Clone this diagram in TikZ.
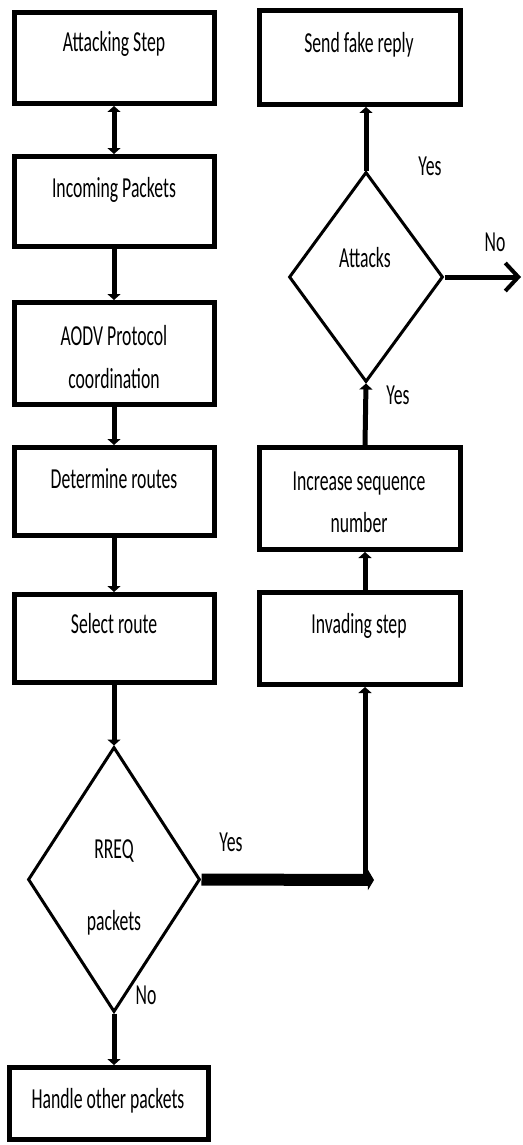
\documentclass[tikz,border=0pt]{standalone}
\usepackage{fontspec}
\setmainfont{Carlito}[FakeStretch=0.61]
\usetikzlibrary{shapes.geometric,arrows.meta}
\begin{document}
\begin{tikzpicture}[x=1pt,y=-1pt,
  box/.style={draw, line width=5pt, rectangle, inner sep=0pt},
  dia/.style={draw, line width=3pt, diamond, inner sep=0pt},
  txt/.style={font=\fontsize{29}{34}\selectfont, inner sep=0pt, anchor=base},
  lbl/.style={font=\fontsize{29}{34}\selectfont, inner sep=0pt},
  conn/.style={line width=5pt, -{Triangle[width=13pt,length=6pt]}},
  both/.style={line width=5pt, {Triangle[width=13pt,length=6pt]}-{Triangle[width=13pt,length=6pt]}},
]
\useasboundingbox (0,0) rectangle (522,1145);
% left column
\node[box, minimum width=200pt, minimum height=91pt] (b1) at (114,58) {};
\node[box, minimum width=200pt, minimum height=90pt] (b2) at (114,201.5) {};
\node[box, minimum width=200pt, minimum height=102pt] (b3) at (114,353.5) {};
\node[box, minimum width=200pt, minimum height=88pt] (b4) at (114,491.5) {};
\node[box, minimum width=200pt, minimum height=88pt] (b5) at (114,638.5) {};
\node[dia, minimum width=172pt, minimum height=265pt] (rreq) at (114,879.5) {};
\node[box, minimum width=199pt, minimum height=72pt] (hop) at (109,1103.5) {};
% right column
\node[box, minimum width=201pt, minimum height=94pt] (send) at (360,57.5) {};
\node[dia, minimum width=154pt, minimum height=210pt] (att) at (366,277) {};
\node[box, minimum width=201pt, minimum height=102pt] (inc) at (360,498.5) {};
\node[box, minimum width=201pt, minimum height=92pt] (inv) at (360,638.5) {};
% texts (anchored at baseline)
\node[txt] (t1) at (114,52) {Attacking Step};
\node[txt] (t2) at (114,197) {Incoming Packets};
\node[txt] (t3a) at (114,345) {AODV Protocol};
\node[txt] (t3b) at (114,388) {coordination};
\node[txt] (t4) at (114,488) {Determine routes};
\node[txt] (t5) at (114,633) {Select route};
\node[txt] (t6a) at (114,858) {RREQ};
\node[txt] (t6b) at (114,930) {packets};
\node[txt] (t7) at (108,1108) {Handle other packets};
\node[txt] (t8) at (359,53) {Send fake reply};
\node[txt] (t9) at (365,267) {Attacks};
\node[txt] (t10a) at (359,490) {Increase sequence};
\node[txt] (t10b) at (359,532) {number};
\node[txt] (t11) at (359,633) {Invading step};
% yes / no labels
\node[lbl] (yes1) at (231,842) {Yes};
\node[lbl] (no1) at (146,995) {No};
\node[lbl] (yes2) at (398,395) {Yes};
\node[lbl] (yes3) at (430,166) {Yes};
\node[lbl] (no2) at (495,242) {No};
% connectors
\draw[both] (b1.south) -- (b2.north);
\draw[conn] (b2.south) -- (b3.north);
\draw[conn] (b3.south) -- (b4.north);
\draw[conn] (b4.south) -- (b5.north);
\draw[conn] (b5.south) -- (rreq.north);
\draw[conn] (rreq.south) -- (hop.north -| rreq.south);
\coordinate (yc) at (365,880);
\coordinate (yend) at (374,880);
\draw[line width=12pt, -{Triangle[width=20pt,length=6pt]}] (rreq.east) -- (yend);
\draw[conn] (yc) -- (inv.south -| yc);
\draw[conn] (inv.north -| yc) -- (inc.south -| yc);
\draw[conn] (inc.north -| yc) -- (att.south);
\draw[conn] (att.north) -- (send.south -| att.north);
\coordinate (noend) at (521,277);
\draw[line width=5pt, -{Straight Barb[width=28pt,length=13pt,line width=4pt]}] (att.east) -- (noend);
\end{tikzpicture}
\end{document}
